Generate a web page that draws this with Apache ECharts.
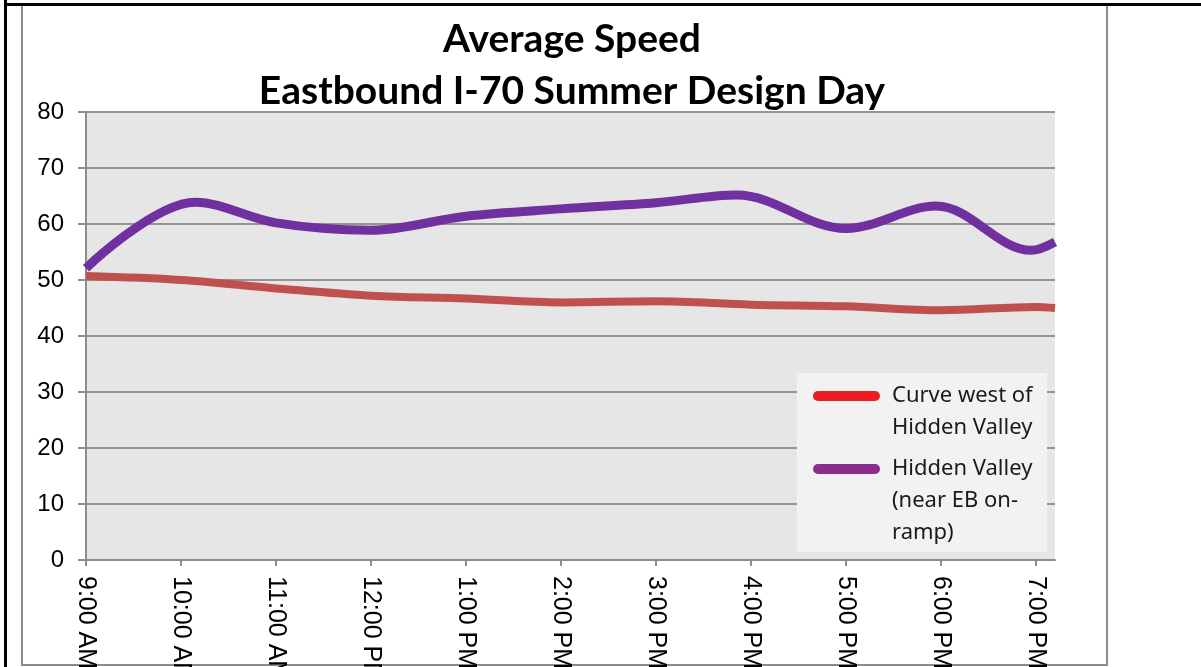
<!DOCTYPE html>
<html lang="en">
<head>
	<meta charset="UTF-8">
	<title>Average Speed</title>
	<style type="text/css">
		html, body { margin: 0; padding: 0; background: #fff; }
		#a { width: 1201px; height: 667px; }
	</style>
</head>
<body>
	<div id="a"></div>
	<script type="text/javascript" src="https://cdn.jsdelivr.net/npm/echarts@6/dist/echarts.min.js"></script>
	<script type="text/javascript">
		// hour labels, 0 = 9:00 AM
		var tickLabels = ['9:00 AM', '10:00 AM', '11:00 AM', '12:00 PM', '1:00 PM', '2:00 PM',
			'3:00 PM', '4:00 PM', '5:00 PM', '6:00 PM', '7:00 PM'];

		var redName = 'Curve west of\nHidden Valley';
		var purpleName = 'Hidden Valley\n(near EB on-\nramp)';

		// hours after 9:00 AM (10.2 is where the plot is cut off) / speed in mph
		var redHours = [0, 1, 2, 3, 4, 5, 6, 7, 8, 9, 10, 10.2];
		var redSpeed = [50.7, 50.0, 48.5, 47.2, 46.7, 46.0, 46.2, 45.6, 45.3, 44.6, 45.2, 45.0];

		// purple peaks/troughs sit a little off the hour marks
		var purpleHours = [0, 1.15, 2, 3, 4, 5, 6, 6.85, 8, 8.95, 9.95, 10.2];
		var purpleSpeed = [52.1, 63.9, 60.2, 58.9, 61.4, 62.7, 63.8, 65.2, 59.2, 63.2, 55.3, 56.8];

		function pairs(xs, ys) {
			var out = [];
			for (var i = 0; i < xs.length; i++) {
				out.push([xs[i], ys[i]]);
			}
			return out;
		}

		var hourTicks = [];
		for (var h = 0; h < tickLabels.length; h++) {
			hourTicks.push(h);
		}

		// blank lines on top so the icon sits next to the first line
		function legendText(name) {
			var n = name.split('\n').length;
			var pre = '';
			for (var k = 1; k < n; k++) pre += ' \n';
			return pre + name;
		}

		var capsule = 'path://M5,0 L62,0 A5,5 0 0 1 62,10 L5,10 A5,5 0 0 1 5,0 Z';
		var legendFont = {
			fontFamily: 'Noto Sans',
			fontSize: 22,
			lineHeight: 32,
			color: '#1a1a1a',
			padding: [0, 0, 0, 7]
		};

		var myChart = echarts.init(document.getElementById('a'));
		var option = {
			backgroundColor: '#fff',
			animation: false,
			title: {
				text: 'Average Speed\nEastbound I-70 Summer Design Day',
				left: 567,
				top: 8,
				textAlign: 'center',
				textStyle: {
					fontFamily: 'Lato',
					fontWeight: 'bold',
					fontSize: 39,
					lineHeight: 52,
					color: '#000'
				}
			},
			graphic: [
				{ type: 'rect', z: -10, shape: { x: 22, y: 5, width: 1085, height: 660 },
					style: { fill: 'none', stroke: '#8c8c8c', lineWidth: 2 } },
				{ type: 'rect', z: -9, shape: { x: 4, y: 0, width: 3, height: 667 }, style: { fill: '#000' } },
				{ type: 'rect', z: -9, shape: { x: 4, y: 3, width: 1197, height: 3 }, style: { fill: '#000' } },
				{ type: 'rect', z: 5, shape: { x: 797, y: 373, width: 250, height: 179 }, style: { fill: '#f2f2f2' } }
			],
			legend: [
				{
					orient: 'vertical', left: 813, top: 348, padding: 0,
					itemWidth: 67, itemHeight: 10, z: 10,
					data: [{ name: redName, icon: capsule, itemStyle: { color: '#ed1c24' } }],
					formatter: legendText,
					textStyle: legendFont
				},
				{
					orient: 'vertical', left: 813, top: 389, padding: 0,
					itemWidth: 67, itemHeight: 10, z: 10,
					data: [{ name: purpleName, icon: capsule, itemStyle: { color: '#8b2c8f' } }],
					formatter: legendText,
					textStyle: legendFont
				}
			],
			grid: {
				left: 86, right: 146, top: 112, bottom: 107,
				outerBoundsMode: 'none',
				show: true, backgroundColor: '#e6e6e6', borderWidth: 0
			},
			xAxis: {
				type: 'value',
				min: 0,
				max: 10.2,
				interval: 1,
				axisLine: { show: true, onZero: false, lineStyle: { color: '#8c8c8c', width: 2 } },
				axisTick: { show: true, length: 6, customValues: hourTicks, lineStyle: { color: '#8c8c8c', width: 2 } },
				splitLine: { show: false },
				axisLabel: {
					customValues: hourTicks,
					rotate: -90,
					margin: 16,
					fontFamily: 'Liberation Sans',
					fontSize: 25,
					color: '#000',
					formatter: function (v) { return tickLabels[Math.round(v)] || ''; }
				}
			},
			yAxis: {
				type: 'value',
				min: 0,
				max: 80,
				interval: 10,
				axisLine: { show: true, lineStyle: { color: '#8c8c8c', width: 2 } },
				axisTick: { show: true, length: 8, lineStyle: { color: '#8c8c8c', width: 2 } },
				splitLine: { lineStyle: { color: '#949494', width: 2 } },
				axisLabel: {
					margin: 22,
					fontFamily: 'Liberation Sans',
					fontSize: 24,
					color: '#000'
				}
			},
			series: [
				{
					name: redName,
					type: 'line',
					smooth: 0.35,
					smoothConstraint: false,
					showSymbol: false,
					color: '#c0504d',
					lineStyle: { color: '#c0504d', width: 8 },
					data: pairs(redHours, redSpeed)
				},
				{
					name: purpleName,
					type: 'line',
					smooth: 0.35,
					smoothConstraint: false,
					showSymbol: false,
					color: '#7030a0',
					lineStyle: { color: '#7030a0', width: 9 },
					data: pairs(purpleHours, purpleSpeed)
				}
			]
		};
		myChart.setOption(option);
	</script>
</body>
</html>
